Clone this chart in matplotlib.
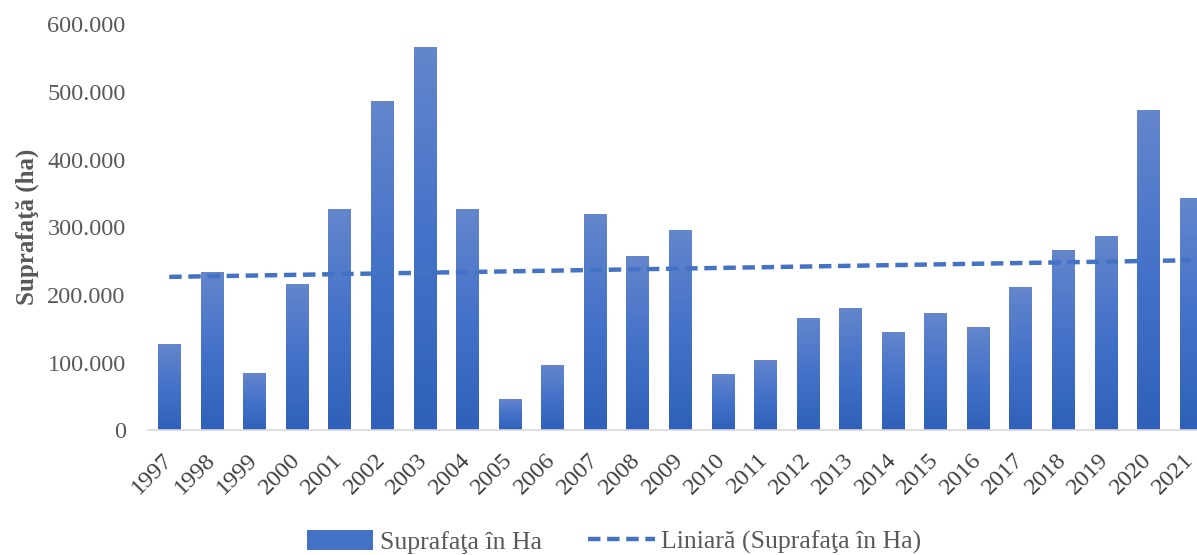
import numpy as np
import matplotlib.pyplot as plt
from matplotlib.colors import LinearSegmentedColormap
from matplotlib.patches import Patch
from matplotlib.lines import Line2D
from matplotlib.ticker import FuncFormatter

plt.rcParams['font.family'] = ['Liberation Serif', 'DejaVu Serif']

# Suprafata anuala (ha)
years = list(range(1997, 2022))
area = [127000, 234000, 84000, 216000, 327000, 487000, 567000, 327000, 46000,
        96000, 320000, 258000, 296000, 83000, 104000, 166000, 181000, 145000,
        173000, 153000, 212000, 267000, 287000, 473000, 344000]

x = np.arange(len(years))
fig = plt.figure(figsize=(11.97, 5.55), dpi=100)
ax = fig.add_axes([0.1236, 0.225, 0.889, 0.731])

bars = ax.bar(x, area, width=0.52, color='#4472C4', zorder=2)

# gradient fill: lighter at the top of every bar
cmap = LinearSegmentedColormap.from_list('bar', ['#2F61BA', '#4472C9', '#6486CC'])
grad = np.linspace(0, 1, 256).reshape(-1, 1)
for b in bars:
    x0, y0 = b.get_x(), b.get_y()
    im = ax.imshow(grad, cmap=cmap, origin='lower', aspect='auto',
                   extent=(x0, x0 + b.get_width(), y0, y0 + b.get_height()), zorder=2)
    im.set_clip_path(b)
    b.set_facecolor('none')

# linear trend line
coef = np.polyfit(x, area, 1)
trend = np.polyval(coef, x)
ax.plot(x, trend, color='#4472C4', lw=3.2, ls=(0, (2.8, 1.5)), zorder=3)

ax.set_xlim(-0.5, len(years) - 0.5)
ax.set_ylim(0, 600000)
ax.set_yticks(np.arange(0, 600001, 100000))
ax.yaxis.set_major_formatter(FuncFormatter(lambda v, p: f'{int(v):,}'.replace(',', '.')))
ax.set_xticks(x)
ax.set_xticklabels(years, rotation=45, ha='right', va='center', rotation_mode='anchor')

for s in ['top', 'right', 'left']:
    ax.spines[s].set_visible(False)
ax.spines['bottom'].set_color('#D9D9D9')
ax.spines['bottom'].set_linewidth(1.2)
ax.tick_params(axis='y', length=0, labelsize=17.5, labelcolor='#595959', pad=16)
ax.tick_params(axis='x', length=0, labelsize=17.5, labelcolor='#404040', pad=19)

ax.set_ylabel('Suprafaţă (ha)', fontsize=18, fontweight='bold', color='#595959', labelpad=6)

handles = [Patch(facecolor='#4472C4', label='Suprafaţa în Ha'),
           Line2D([0], [0], color='#4472C4', lw=3.2, ls=(0, (2.8, 1.5)),
                  label='Liniară (Suprafaţa în Ha)')]
leg = fig.legend(handles=handles, loc='lower center', bbox_to_anchor=(0.513, -0.04),
                 ncol=2, frameon=False, fontsize=18.5, handlelength=2.6,
                 handleheight=0.8, handletextpad=0.25, columnspacing=1.8)
for t in leg.get_texts():
    t.set_color('#595959')

fig.savefig('out.png', dpi=100)
